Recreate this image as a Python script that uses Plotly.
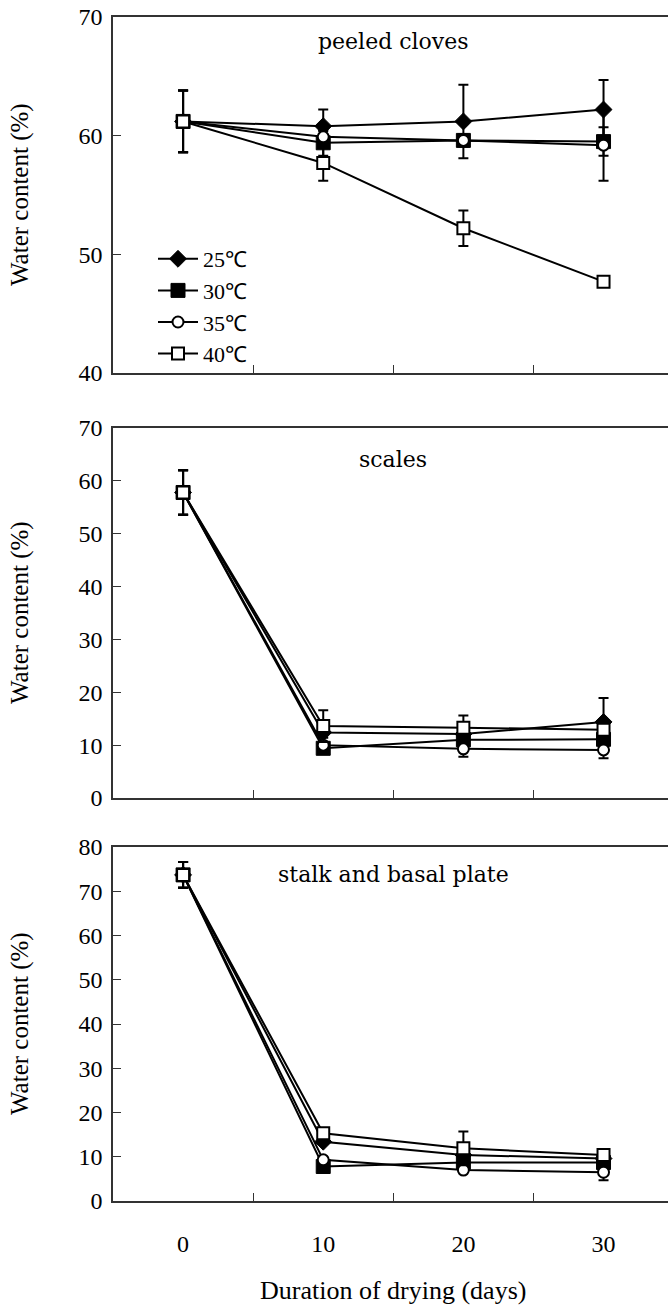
import plotly.graph_objects as go

days = [0, 10, 20, 30]
series_names = ["25℃", "30℃", "35℃", "40℃"]

# peeled cloves
p1_25 = [61.2, 60.8, 61.2, 62.2]
p1_30 = [61.2, 59.4, 59.6, 59.5]
p1_35 = [61.2, 59.9, 59.6, 59.2]
p1_40 = [61.2, 57.7, 52.2, 47.7]
p1_25_err = [2.6, 1.4, 3.1, 2.5]
p1_30_err = [2.6, 1.1, 0.5, 1.2]
p1_35_err = [2.6, 0.5, 0.5, 3.0]
p1_40_err = [2.6, 1.5, 1.5, 0.3]

# scales
p2_25 = [57.8, 12.4, 12.1, 14.4]
p2_30 = [57.8, 9.4, 11.0, 11.1]
p2_35 = [57.8, 10.0, 9.3, 9.1]
p2_40 = [57.8, 13.6, 13.3, 12.9]
p2_25_err = [4.2, 1.0, 1.0, 4.5]
p2_30_err = [4.2, 0.5, 0.5, 0.5]
p2_35_err = [4.2, 0.5, 1.5, 1.6]
p2_40_err = [4.2, 3.0, 2.3, 0.5]

# stalk and basal plate
p3_25 = [73.7, 13.4, 10.4, 9.6]
p3_30 = [73.7, 7.8, 8.7, 8.7]
p3_35 = [73.7, 9.3, 7.0, 6.5]
p3_40 = [73.7, 15.3, 11.9, 10.4]
p3_25_err = [2.9, 0.5, 0.5, 0.5]
p3_30_err = [2.9, 0.5, 0.5, 0.5]
p3_35_err = [2.9, 0.5, 0.5, 1.8]
p3_40_err = [2.9, 0.5, 3.8, 0.5]

panel_titles = ["peeled cloves", "scales", "stalk and basal plate"]
y_ranges = [[40, 70], [0, 70], [0, 80]]
x_ticklabels = ["0", "10", "20", "30"]
x_minor_ticks = [5, 15, 25]

panels = [
    ([p1_25, p1_30, p1_35, p1_40], [p1_25_err, p1_30_err, p1_35_err, p1_40_err]),
    ([p2_25, p2_30, p2_35, p2_40], [p2_25_err, p2_30_err, p2_35_err, p2_40_err]),
    ([p3_25, p3_30, p3_35, p3_40], [p3_25_err, p3_30_err, p3_35_err, p3_40_err]),
]

W, H = 668, 1308
panel_px = [(17, 373), (428, 798), (847, 1201)]
x_dom = [113 / W, 1.0]

markers = [
    dict(symbol="diamond", size=13, color="black", line=dict(color="black", width=1)),
    dict(symbol="square", size=14, color="black", line=dict(color="black", width=1)),
    dict(symbol="circle", size=11, color="white", line=dict(color="black", width=2)),
    dict(symbol="square", size=12, color="white", line=dict(color="black", width=2)),
]

fig = go.Figure()
for pi, (vals, errs) in enumerate(panels):
    xa = "x" if pi == 0 else f"x{pi+1}"
    ya = "y" if pi == 0 else f"y{pi+1}"
    for si in range(4):
        fig.add_trace(go.Scatter(
            x=days, y=vals[si], xaxis=xa, yaxis=ya,
            mode="lines+markers", name=series_names[si],
            showlegend=(pi == 0),
            line=dict(color="black", width=2),
            marker=markers[si],
            error_y=dict(type="data", array=errs[si], visible=True,
                         color="black", thickness=2, width=5),
        ))

serif = "Liberation Serif, Times New Roman, serif"
title_font = "DejaVu Serif, serif"
layout = dict(
    width=W, height=H,
    margin=dict(l=0, r=0, t=0, b=0),
    paper_bgcolor="white", plot_bgcolor="white",
    showlegend=True,
    legend=dict(x=153 / W, y=1 - 238 / H, xanchor="left", yanchor="top",
                font=dict(family=serif, size=22, color="black"),
                bgcolor="rgba(0,0,0,0)", tracegroupgap=0,
                itemwidth=40),
    annotations=[],
)
for pi in range(3):
    top, bot = panel_px[pi]
    sfx = "" if pi == 0 else str(pi + 1)
    layout["xaxis" + sfx] = dict(
        domain=x_dom, range=[-5, 34.6], anchor="y" + sfx,
        showline=True, linecolor="#333", linewidth=1.5, mirror=True,
        tickmode="array", tickvals=days, ticktext=x_ticklabels,
        ticks="", showgrid=False, zeroline=False,
        showticklabels=(pi == 2),
        ticklabelstandoff=20,
        tickfont=dict(family=serif, size=24, color="black"),
        minor=dict(tickmode="array", tickvals=x_minor_ticks, ticks="inside",
                   ticklen=8, tickwidth=1.2, tickcolor="#333", showgrid=False),
        automargin=False,
    )
    layout["yaxis" + sfx] = dict(
        domain=[1 - bot / H, 1 - top / H], range=y_ranges[pi], anchor="x" + sfx,
        showline=True, linecolor="#333", linewidth=1.5, mirror=False,
        dtick=10, ticks="inside", ticklen=8, tickwidth=1.2, tickcolor="#333",
        showgrid=False, zeroline=False,
        tickfont=dict(family=serif, size=24, color="black"),
        ticklabelstandoff=4,
        automargin=False,
    )
    title_y = [0.93, 0.916, 0.921][pi]
    layout["annotations"].append(dict(
        text=panel_titles[pi], x=15, y=title_y, xref="x" + sfx, yref="y" + sfx + " domain",
        showarrow=False, font=dict(family=title_font, size=22, color="black"),
        xanchor="center", yanchor="middle"))
    layout["annotations"].append(dict(
        text="Water content (%)", x=20 / W, y=0.5, xref="paper", yref="y" + sfx + " domain",
        showarrow=False, textangle=-90, font=dict(family=serif, size=25, color="black"),
        xanchor="center", yanchor="middle"))

layout["annotations"].append(dict(
    text="Duration of drying (days)", x=15, y=1 - 1290 / H, xref="x3", yref="paper",
    showarrow=False, font=dict(family=serif, size=26, color="black"),
    xanchor="center", yanchor="middle"))

fig.update_layout(**layout)
fig.write_html("out.html")
